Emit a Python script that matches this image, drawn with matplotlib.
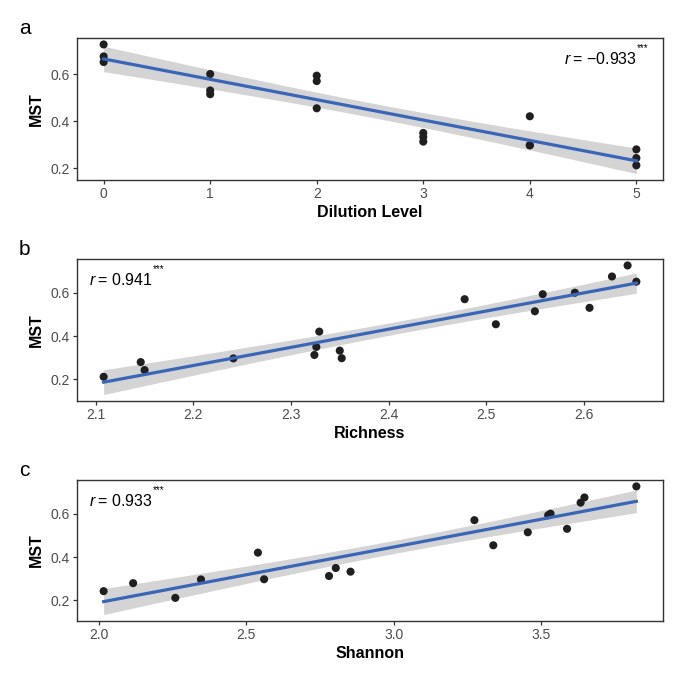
import numpy as np
import matplotlib
matplotlib.use("Agg")
import matplotlib.pyplot as plt

plt.rcParams['font.family'] = ['Liberation Sans', 'DejaVu Sans']
plt.rcParams['mathtext.fontset'] = 'custom'
plt.rcParams['mathtext.rm'] = 'Liberation Sans'
plt.rcParams['mathtext.it'] = 'Liberation Sans:italic'

# ==========================================
# DATA (18 samples: 6 dilution levels x 3 replicates)
# ==========================================
dilution = [0, 0, 0, 1, 1, 1, 2, 2, 2, 3, 3, 3, 4, 4, 4, 5, 5, 5]
mst = [0.727, 0.676, 0.652, 0.601, 0.531, 0.515, 0.594, 0.571, 0.455,
       0.350, 0.333, 0.313, 0.421, 0.297, 0.298, 0.280, 0.243, 0.212]
richness = [2.645, 2.629, 2.654, 2.591, 2.606, 2.550, 2.558, 2.478, 2.510,
            2.326, 2.350, 2.324, 2.329, 2.241, 2.352, 2.146, 2.150, 2.108]
shannon = [3.823, 3.647, 3.634, 3.532, 3.588, 3.455, 3.524, 3.274, 3.338,
           2.804, 2.854, 2.781, 2.540, 2.347, 2.561, 2.117, 2.017, 2.260]

panel_labels = ["a", "b", "c"]
x_labels = ["Dilution Level", "Richness", "Shannon"]
r_labels = ["\u22120.933", "0.941", "0.933"]
x_ticks = [[0, 1, 2, 3, 4, 5],
           [2.1, 2.2, 2.3, 2.4, 2.5, 2.6],
           [2.0, 2.5, 3.0, 3.5]]
x_ticklabels = [["0", "1", "2", "3", "4", "5"],
                ["2.1", "2.2", "2.3", "2.4", "2.5", "2.6"],
                ["2.0", "2.5", "3.0", "3.5"]]
y_ticks = [0.2, 0.4, 0.6]

T_975_DF16 = 2.119905  # t quantile for 95% CI, n-2 = 16


def lm_band(x, y, n_grid=80):
    """Linear fit + 95% confidence band like geom_smooth(method='lm')"""
    x = np.asarray(x, float)
    y = np.asarray(y, float)
    n = len(x)
    slope, icpt = np.polyfit(x, y, 1)
    resid = y - (slope * x + icpt)
    s = np.sqrt(np.sum(resid ** 2) / (n - 2))
    xg = np.linspace(x.min(), x.max(), n_grid)
    yg = slope * xg + icpt
    se = s * np.sqrt(1 / n + (xg - x.mean()) ** 2 / np.sum((x - x.mean()) ** 2))
    return xg, yg, yg - T_975_DF16 * se, yg + T_975_DF16 * se


fig = plt.figure(figsize=(6.85, 6.85), dpi=100)

W = 685.0
boxes = [(77, 38, 663, 180), (77, 259, 663, 401), (77, 480, 663, 621)]
xs_all = [dilution, richness, shannon]

for i, (l, t, r, b) in enumerate(boxes):
    ax = fig.add_axes([l / W, 1 - b / W, (r - l) / W, (b - t) / W])
    xv = xs_all[i]
    xg, yg, lo, hi = lm_band(xv, mst)
    ax.fill_between(xg, lo, hi, color='#d4d4d4', lw=0, zorder=1)
    ax.scatter(xv, mst, s=34, color='#1f1f1f', edgecolors='none', zorder=2)
    ax.plot(xg, yg, color='#3a66b8', lw=2.3, zorder=3)

    ax.set_xticks(x_ticks[i])
    ax.set_xticklabels(x_ticklabels[i])
    ax.set_yticks(y_ticks)
    ax.set_yticklabels(["0.2", "0.4", "0.6"])
    ax.tick_params(axis='both', colors='#333333', labelcolor='#4d4d4d',
                   labelsize=10, length=3, width=0.9, pad=2)
    for sp in ax.spines.values():
        sp.set_color('#333333')
        sp.set_linewidth(1.0)

    ax.set_xlabel(x_labels[i], fontsize=11.5, fontweight='bold', labelpad=3)
    ax.set_ylabel("MST", fontsize=11.5, fontweight='bold', labelpad=5)

    # r label + small superscript stars
    txt = r"$r$" + "\u2009= " + r_labels[i]
    if i == 0:
        t1 = ax.text(0.955, 0.91, txt, transform=ax.transAxes, ha='right', va='top', fontsize=11.5)
    else:
        t1 = ax.text(0.02, 0.91, txt, transform=ax.transAxes, ha='left', va='top', fontsize=11.5)
    ax.annotate("***", xy=(1.0, 1.0), xycoords=t1, xytext=(0.5, 2), textcoords='offset points',
                ha='left', va='center', fontsize=7)

    fig.text(19 / W, 1 - (t - 4) / W, panel_labels[i], fontsize=15, ha='left', va='baseline')

plt.savefig("out.png", dpi=100)
plt.close()
